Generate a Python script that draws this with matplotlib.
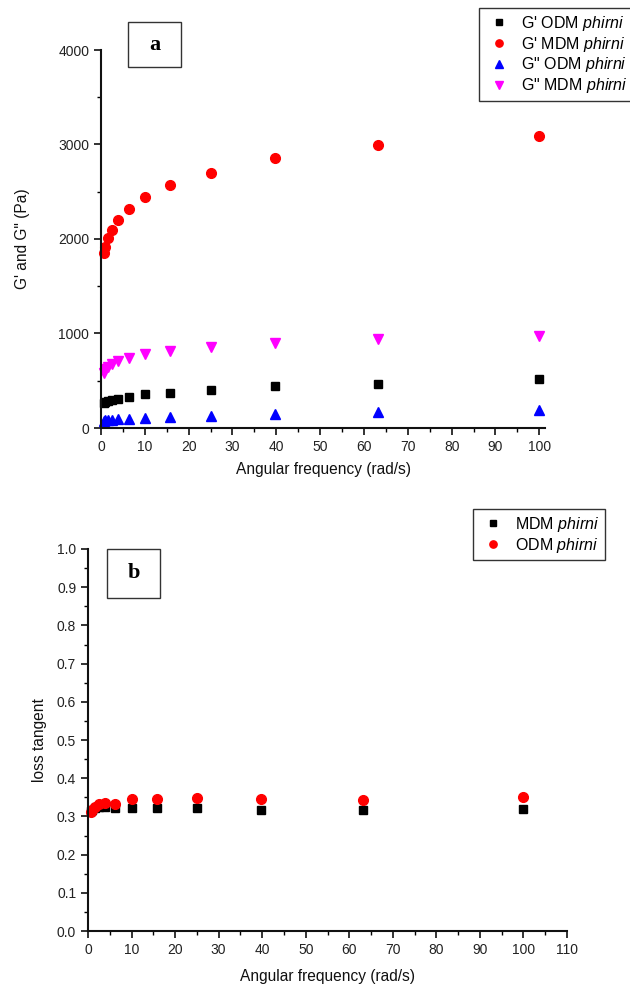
import matplotlib
matplotlib.use('Agg')
import matplotlib.pyplot as plt
from matplotlib.patches import Rectangle
from matplotlib.ticker import MultipleLocator, FormatStrFormatter

matplotlib.rcParams['font.family'] = ['Liberation Sans', 'DejaVu Sans']
matplotlib.rcParams['mathtext.fontset'] = 'custom'
matplotlib.rcParams['mathtext.rm'] = 'Liberation Sans'
matplotlib.rcParams['mathtext.it'] = 'Liberation Sans:italic'

# angular frequency (rad/s), same sweep for both panels
freq = [0.631, 1.0, 1.58, 2.51, 3.98, 6.31, 10.0, 15.8, 25.1, 39.8, 63.1, 100.0]

# panel a : moduli (Pa)
g1_odm = [268, 277, 286, 296, 306, 326, 355, 372, 400, 440, 468, 518]
g1_mdm = [1851, 1918, 2007, 2099, 2205, 2319, 2443, 2569, 2700, 2859, 2995, 3085]
g2_odm = [78, 82, 85, 88, 92, 97, 108, 118, 130, 148, 167, 188]
g2_mdm = [585, 620, 648, 677, 713, 738, 780, 816, 862, 901, 940, 972]

# panel b : loss tangent
tan_mdm = [0.314, 0.318, 0.322, 0.324, 0.325, 0.322, 0.323, 0.322, 0.322, 0.318, 0.317, 0.319]
tan_odm = [0.312, 0.318, 0.325, 0.332, 0.335, 0.333, 0.345, 0.345, 0.347, 0.345, 0.343, 0.350]

W, H = 630, 988
fig = plt.figure(figsize=(W / 100, H / 100), dpi=100)


def px(x0, y0, x1, y1):
    # pixel box (from top-left) -> figure fraction rect
    return [x0 / W, 1 - y1 / H, (x1 - x0) / W, (y1 - y0) / H]


def style(ax):
    for s in ['top', 'right']:
        ax.spines[s].set_visible(False)
    for s in ['left', 'bottom']:
        ax.spines[s].set_linewidth(1.5)
        ax.spines[s].set_color('#111111')
    ax.tick_params(which='major', direction='out', length=5, width=1.2,
                   labelsize=10, colors='#111111', labelcolor='#222222')
    ax.tick_params(which='minor', direction='out', length=3, width=1.0)


ms = 7
ax1 = fig.add_axes(px(101, 50, 545, 428))
ax1.plot(freq, g1_odm, 's', color='black', ms=6.3, clip_on=False, label="G' ODM $\\mathit{phirni}$")
ax1.plot(freq, g1_mdm, 'o', color='red', ms=ms, clip_on=False, label="G' MDM $\\mathit{phirni}$")
ax1.plot(freq, g2_odm, '^', color='blue', ms=ms, clip_on=False, label='G" ODM $\\mathit{phirni}$')
ax1.plot(freq, g2_mdm, 'v', color='magenta', ms=ms, clip_on=False, label='G" MDM $\\mathit{phirni}$')
ax1.set_xlim(0, 101.3)
ax1.set_ylim(0, 4000)
ax1.xaxis.set_major_locator(MultipleLocator(10))
ax1.xaxis.set_minor_locator(MultipleLocator(5))
ax1.yaxis.set_major_locator(MultipleLocator(1000))
ax1.yaxis.set_minor_locator(MultipleLocator(500))
style(ax1)
ax1.set_xlabel('Angular frequency (rad/s)', fontsize=11.2, labelpad=6, color='#111111')
ax1.set_ylabel('G\' and G" (Pa)', fontsize=11.2, labelpad=20, color='#111111')

ax2 = fig.add_axes(px(88, 549, 567, 931))
ax2.plot(freq, tan_mdm, 's', color='black', ms=6.3, clip_on=False, label='MDM $\\mathit{phirni}$')
ax2.plot(freq, tan_odm, 'o', color='red', ms=ms, clip_on=False, label='ODM $\\mathit{phirni}$')
ax2.set_xlim(0, 110)
ax2.set_ylim(0, 1.0)
ax2.xaxis.set_major_locator(MultipleLocator(10))
ax2.xaxis.set_minor_locator(MultipleLocator(5))
ax2.yaxis.set_major_locator(MultipleLocator(0.1))
ax2.yaxis.set_minor_locator(MultipleLocator(0.05))
ax2.yaxis.set_major_formatter(FormatStrFormatter('%.1f'))
style(ax2)
ax2.set_xlabel('Angular frequency (rad/s)', fontsize=11.2, labelpad=9, color='#111111')
ax2.set_ylabel('loss tangent', fontsize=11.2, labelpad=7, color='#111111')

leg_kw = dict(loc='upper left', fontsize=11.5, frameon=True, fancybox=False,
              edgecolor='#333333', framealpha=1, borderpad=0.35, labelspacing=0.12,
              handletextpad=0.5, handlelength=1.8, borderaxespad=0, markerscale=0.75)
l1 = fig.legend(handles=ax1.get_lines(), bbox_to_anchor=(479 / W, 1 - 8 / H), **leg_kw)
l2 = fig.legend(handles=ax2.get_lines(), bbox_to_anchor=(473 / W, 1 - 509 / H), **leg_kw)
for l in (l1, l2):
    l.get_frame().set_linewidth(1.0)

# panel letters in boxes
for (x0, y0, x1, y1), letter in [((128, 22, 181, 67), 'a'), ((107, 549, 160, 598), 'b')]:
    r = px(x0, y0, x1, y1)
    fig.patches.append(Rectangle((r[0], r[1]), r[2], r[3], transform=fig.transFigure,
                                 fill=False, edgecolor='#333333', linewidth=1.0))
    fig.text(r[0] + r[2] / 2, r[1] + r[3] / 2, letter, ha='center', va='center',
             fontsize=16, fontweight='bold', family='Liberation Serif')

fig.savefig('out.png', dpi=100)
